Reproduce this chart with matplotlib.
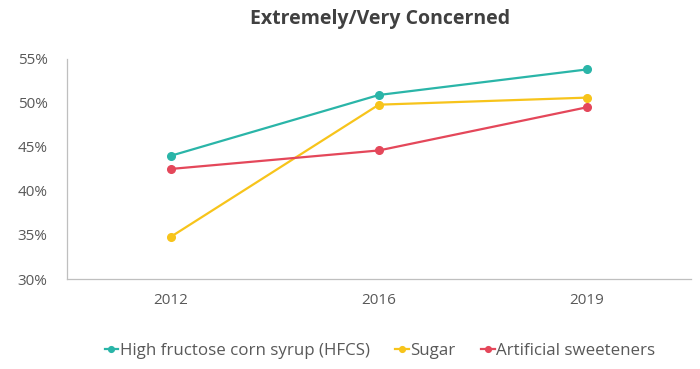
import matplotlib
matplotlib.use("Agg")
import matplotlib.pyplot as plt
from matplotlib.ticker import FuncFormatter

years = ["2012", "2016", "2019"]
hfcs = [44.0, 50.9, 53.8]
sugar = [34.8, 49.8, 50.6]
artificial = [42.5, 44.6, 49.5]
labels = ["High fructose corn syrup (HFCS)", "Sugar", "Artificial sweeteners"]
colors = ["#2AB5A8", "#F7C41B", "#E4475A"]
y_ticks = [30, 35, 40, 45, 50, 55]

plt.rcParams['font.family'] = ['Open Sans', 'DejaVu Sans']

fig = plt.figure(figsize=(7, 3.69), dpi=100)
ax = fig.add_axes([0.0957, 0.2439, 0.891, 0.5965])

x = range(len(years))
for vals, lab, c in zip([hfcs, sugar, artificial], labels, colors):
    ax.plot(x, vals, color=c, lw=1.6, marker='o', ms=5.5, label=lab)

ax.set_xlim(-0.5, 2.5)
ax.set_ylim(30, 55)
ax.set_yticks(y_ticks)
ax.yaxis.set_major_formatter(FuncFormatter(lambda v, p: f"{v:.0f}%"))
ax.set_xticks(list(x))
ax.set_xticklabels(years)
for s in ['top', 'right']:
    ax.spines[s].set_visible(False)
for s in ['left', 'bottom']:
    ax.spines[s].set_color('#BFBFBF')
    ax.spines[s].set_linewidth(0.9)
ax.tick_params(axis='both', length=0, labelsize=11, colors='#595959', pad=10)
ax.tick_params(axis='y', pad=14)

fig.text(0.543, 0.948, "Extremely/Very Concerned", ha='center', va='center',
         fontsize=14, fontweight='bold', color='#404040')

leg = fig.legend(loc='center', bbox_to_anchor=(0.543, 0.048), ncol=3, frameon=False,
                 fontsize=12.2, handlelength=0.8, handletextpad=0.1, columnspacing=1.5,
                 markerscale=0.75, labelcolor='#595959')

fig.savefig("out.png", dpi=100)
